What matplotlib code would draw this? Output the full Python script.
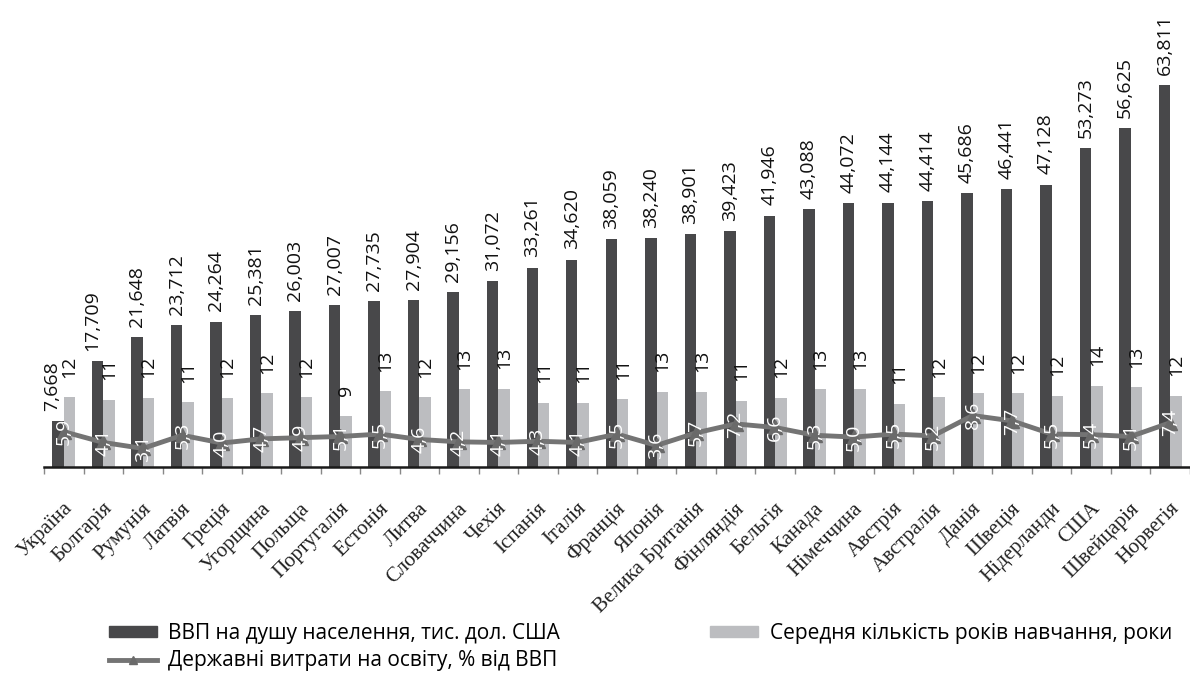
import numpy as np
import matplotlib
matplotlib.use('Agg')
import matplotlib.pyplot as plt
from matplotlib.lines import Line2D
from matplotlib.patches import Patch
from matplotlib.transforms import ScaledTranslation

plt.rcParams['font.family'] = ['Open Sans', 'DejaVu Sans']

# дані
countries = ['Україна', 'Болгарія', 'Румунія', 'Латвія', 'Греція', 'Угорщина', 'Польща',
             'Португалія', 'Естонія', 'Литва', 'Словаччина', 'Чехія', 'Іспанія', 'Італія',
             'Франція', 'Японія', 'Велика Британія', 'Фінляндія', 'Бельгія', 'Канада',
             'Німеччина', 'Австрія', 'Австралія', 'Данія', 'Швеція', 'Нідерланди', 'США',
             'Швейцарія', 'Норвегія']
gdp = [7.668, 17.709, 21.648, 23.712, 24.264, 25.381, 26.003, 27.007, 27.735, 27.904,
       29.156, 31.072, 33.261, 34.620, 38.059, 38.240, 38.901, 39.423, 41.946, 43.088,
       44.072, 44.144, 44.414, 45.686, 46.441, 47.128, 53.273, 56.625, 63.811]
years = [11.7, 11.2, 11.6, 10.8, 11.6, 12.3, 11.7, 8.6, 12.7, 11.7, 13.0, 13.1, 10.7, 10.7,
         11.3, 12.6, 12.6, 11.1, 11.6, 13.0, 13.0, 10.6, 11.7, 12.3, 12.3, 11.9, 13.6, 13.3, 11.9]
spend = [5.9, 4.1, 3.1, 5.3, 4.0, 4.7, 4.9, 5.1, 5.5, 4.6, 4.2, 4.1, 4.3, 4.1, 5.5, 3.6,
         5.7, 7.2, 6.6, 5.3, 5.0, 5.5, 5.2, 8.6, 7.7, 5.5, 5.4, 5.1, 7.4]

c_dark = '#48484a'
c_light = '#bcbdc0'
c_line = '#747474'
c_mark = '#6a6a6a'

fig = plt.figure(figsize=(11.9, 6.75), dpi=100)
ax = fig.add_axes([44/1190, 1 - 467/675, 1 - 44/1190, 467/675])

x = np.arange(len(countries))
w = 0.29
ax.bar(x - w/2, gdp, w, color=c_dark, zorder=2)
ax.bar(x + w/2, years, w, color=c_light, zorder=2)
ax.plot(x, spend, color=c_line, lw=3.5, marker='^', ms=10, mfc=c_mark, mec=c_mark, zorder=3)

for xi, v, y2 in zip(x, gdp, years):
    # підпис зсувається вліво, якщо стикається з підписом сусіднього стовпця
    dx = -4 if v < y2 + 8 else 0
    ax.annotate(f"{v:.3f}".replace('.', ','), (xi - w/2, v), xytext=(dx, 7.5),
                textcoords='offset points', rotation=90, ha='center', va='bottom',
                fontsize=14, color='#111111', zorder=4)
for xi, v in zip(x, years):
    ax.annotate(f"{v:.0f}", (xi + w/2, v), xytext=(0, 14),
                textcoords='offset points', rotation=90, ha='center', va='bottom',
                fontsize=14, color='#111111', zorder=4)
for xi, v in zip(x, spend):
    ax.text(xi, v, f"{v:.1f}".replace('.', ','), rotation=90, ha='center', va='center',
            fontsize=14, color='white', zorder=5)

ax.set_xlim(-0.5, len(countries) - 0.5)
ax.set_ylim(0, 78)
ax.set_yticks([])
for s in ['top', 'right', 'left']:
    ax.spines[s].set_visible(False)
ax.spines['bottom'].set_linewidth(1.8)
ax.spines['bottom'].set_color('#1a1a1a')

ax.set_xticks(x)
ax.set_xticklabels(countries, rotation=45, ha='right', va='center', rotation_mode='anchor',
                   fontfamily='Liberation Serif', fontsize=15, color='#222222')
ax.tick_params(axis='x', which='major', length=0, pad=28)
ax.set_xticks(np.arange(-0.5, len(countries), 1), minor=True)
ax.tick_params(axis='x', which='minor', length=5, width=1, color='#888888')
shift = ScaledTranslation(6/100, 0, fig.dpi_scale_trans)
for lbl in ax.get_xticklabels():
    lbl.set_transform(lbl.get_transform() + shift)

handles = [Patch(color=c_dark),
           Line2D([], [], color=c_line, lw=3.5, marker='^', ms=6, mfc=c_mark, mec=c_mark),
           Patch(color=c_light)]
labels = ['ВВП на душу населення, тис. дол. США',
          'Державні витрати на освіту, % від ВВП',
          'Середня кількість років навчання, роки']
fig.legend(handles, labels, ncol=2, loc='upper left', bbox_to_anchor=(109/1190, 1 - 623/675),
           frameon=False, fontsize=15, handlelength=2.3, handleheight=0.4,
           handletextpad=0.55, columnspacing=7.2, labelspacing=0.3, borderpad=0, borderaxespad=0)

fig.savefig('out.png', dpi=100)
